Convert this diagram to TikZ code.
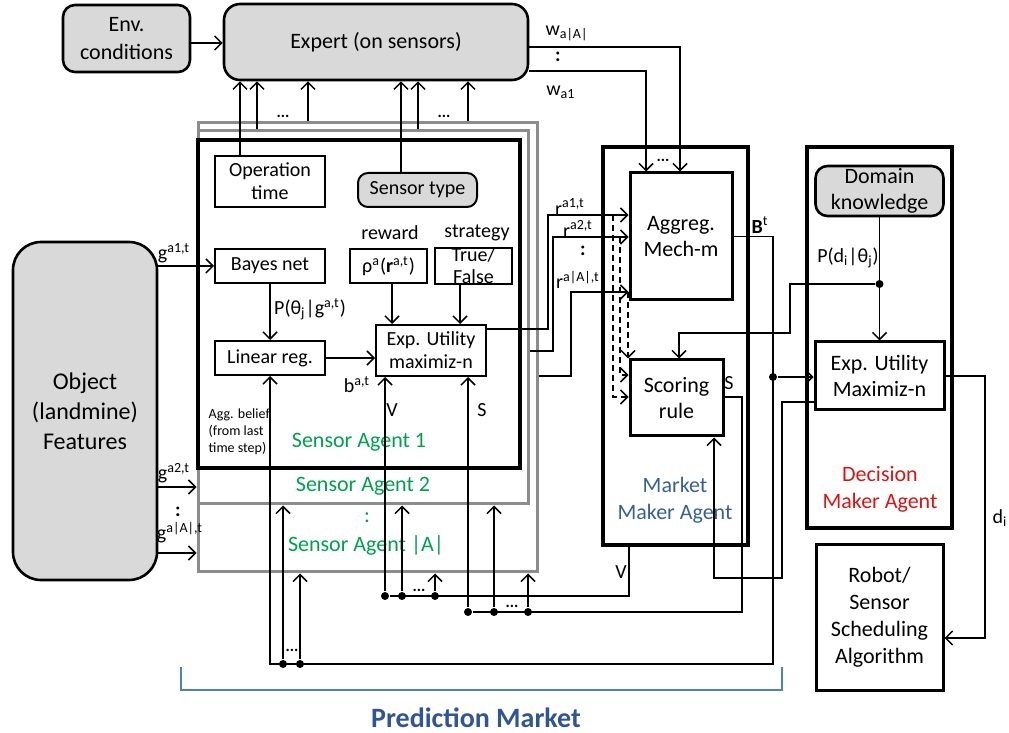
\documentclass[tikz,border=0pt]{standalone}
\usepackage{fontspec}
\setmainfont{Carlito}
\usetikzlibrary{arrows.meta,calc}
\definecolor{boxgray}{RGB}{217,217,217}
\definecolor{framegray}{RGB}{140,140,140}
\definecolor{agentgreen}{RGB}{0,160,80}
\definecolor{mmblue}{RGB}{54,96,146}
\definecolor{dmred}{RGB}{220,20,20}
\definecolor{pmblue}{RGB}{47,85,151}
\definecolor{brblue}{RGB}{79,129,189}
\begin{document}
\begin{tikzpicture}[x=0.5pt,y=-0.5pt,line width=0.75pt,
  arr/.style={-{Straight Barb[length=3.5pt,width=7pt]}},
  dsh/.style={dash pattern=on 3pt off 2pt},
  rbox/.style={draw, rounded corners=6pt, fill=boxgray, line width=1.3pt, align=center, inner sep=0pt},
  sbox/.style={draw, line width=1pt, align=center, inner sep=0pt, font=\fontsize{10}{11.5}\selectfont},
  bbox/.style={draw, line width=1.5pt, align=center, inner sep=0pt, font=\fontsize{11}{13}\selectfont},
  frm/.style={draw, line width=2pt, inner sep=0pt},
  gfrm/.style={draw=framegray, line width=1.5pt, inner sep=0pt},
  lbl/.style={inner sep=0pt, font=\fontsize{10}{12}\selectfont},
  big/.style={inner sep=0pt, align=center, font=\fontsize{11}{13.5}\selectfont},
  dts/.style={inner sep=0pt, font=\bfseries\fontsize{8}{9}\selectfont},
  jdot/.style={circle, fill, inner sep=0pt, minimum size=4pt},
]
\useasboundingbox (0,0) rectangle (1009,733);

% top boxes
\node[rbox, minimum width=63.5pt, minimum height=33.5pt, font=\fontsize{11}{14}\selectfont] (env) at (126.5,38.5) {Env.\\conditions};
\node[rbox, rounded corners=8pt, minimum width=152pt, minimum height=38pt, font=\fontsize{11}{13}\selectfont] (expert) at (376,42) {Expert (on sensors)};
\node[rbox, rounded corners=14pt, minimum width=72pt, minimum height=169pt, font=\fontsize{12}{15}\selectfont] (obj) at (85,411) {Object\\(landmine)\\Features};

% sensor agent frames
\node[gfrm, minimum width=169.5pt, minimum height=224.5pt] (agentA) at (367.5,347.5) {};
\node[gfrm, minimum width=165pt, minimum height=186.5pt] (agent2) at (363,317.5) {};
\node[frm, minimum width=161pt, minimum height=164pt] (agent1) at (359,304) {};

% inner boxes of sensor agent
\node[sbox, minimum width=55pt, minimum height=25.5pt] (optime) at (270,181.5) {Operation\\time};
\node[sbox, rounded corners=5pt, fill=boxgray, minimum width=59.5pt, minimum height=17pt] (stype) at (417.5,190) {Sensor type};
\node[sbox, minimum width=55pt, minimum height=17pt] (bayes) at (270,266) {Bayes net};
\node[sbox, minimum width=38.5pt, minimum height=17pt] (reward) at (388.5,266) {ρ\textsuperscript{a}(\textbf{r}\textsuperscript{a,t})};
\node[sbox, minimum width=38.5pt, minimum height=17pt, font=\fontsize{10}{11}\selectfont] (strat) at (473.5,266) {True/\\False};
\node[sbox, minimum width=55pt, minimum height=17pt] (linreg) at (270,358) {Linear reg.};
\node[sbox, minimum width=55pt, minimum height=25.5pt] (eu1) at (431,350.5) {Exp. Utility\\maximiz-n};

\node[lbl] (rewl) at (390,233) {reward};
\node[lbl] (strl) at (477,233) {strategy};
\node[lbl] (pth) at (310,309) {P(θ\textsubscript{j}|g\textsuperscript{a,t})};
\node[lbl] (bat) at (357,385) {b\textsuperscript{a,t}};
\node[lbl] (vl1) at (392,410) {V};
\node[lbl] (sl1) at (482,410) {S};
\node[anchor=north west, align=left, inner sep=0pt, font=\fontsize{7}{8.5}\selectfont] (aggb) at (208,408) {Agg. belief\\(from last\\time step)};

\node[big, text=agentgreen] (sa1) at (359,442) {Sensor Agent 1};
\node[big, text=agentgreen] (sa2) at (363,486) {Sensor Agent 2};
\node[big, text=agentgreen] (sad) at (367,518) {:};
\node[big, text=agentgreen] (saA) at (366,545) {Sensor Agent |A|};

% market maker
\node[frm, minimum width=72.5pt, minimum height=199pt] (mm) at (675.5,346) {};
\node[bbox, minimum width=51pt, minimum height=63.5pt] (aggreg) at (681,236.5) {Aggreg.\\Mech-m};
\node[bbox, minimum width=46.5pt, minimum height=38pt] (score) at (676.5,398) {Scoring\\rule};
\node[big, text=mmblue] (mml) at (675,500) {Market\\Maker Agent};

% decision maker
\node[frm, minimum width=72.5pt, minimum height=190.5pt] (dm) at (879.5,337.5) {};
\node[rbox, minimum width=64pt, minimum height=25pt, font=\fontsize{11}{13}\selectfont] (domain) at (879.5,191) {Domain\\knowledge};
\node[bbox, minimum width=64.5pt, minimum height=34pt] (eu2) at (879.5,376) {Exp. Utility\\Maximiz-n};
\node[big, text=dmred] (dml) at (880,489) {Decision\\Maker Agent};

\node[bbox, minimum width=63.5pt, minimum height=72.5pt, font=\fontsize{11}{13.5}\selectfont] (robot) at (879.5,617.5) {Robot/\\Sensor\\Scheduling\\Algorithm};

% env -> expert
\draw[arr] (env.east |- 0,43) -- (expert.west |- 0,43);

% agents -> expert
\draw[arr] (240,0 |- optime.north) -- (240,0 |- expert.south);
\draw[arr] (257,0 |- agent2.north) -- (257,0 |- expert.south);
\draw[arr] (308,0 |- agentA.north) -- (308,0 |- expert.south);
\draw[arr] (401,0 |- stype.north) -- (401,0 |- expert.south);
\draw[arr] (418,0 |- agent2.north) -- (418,0 |- expert.south);
\draw[arr] (468,0 |- agentA.north) -- (468,0 |- expert.south);
\node[dts] (dt1) at (283,116) {...};
\node[dts] (dt2) at (444,116) {...};

% expert -> aggreg
\draw[arr] (expert.east |- 0,47) -| (680,0 |- aggreg.north);
\draw[arr] (expert.east |- 0,71) -| (646,0 |- aggreg.north);
\node[lbl] (wA) at (567,33) {w\textsubscript{a|A|}};
\node[lbl, font=\bfseries\fontsize{10}{12}\selectfont] (wd) at (558,57) {:};
\node[lbl] (w1) at (561,92) {w\textsubscript{a1}};
\node[dts] (dt3) at (663,160) {...};

% object -> agents
\draw[arr] (obj.east |- bayes.west) -- (bayes.west);
\draw[arr] (obj.east |- 0,487) -- (agent2.west |- 0,487);
\draw[arr] (obj.east |- 0,553) -- (agentA.west |- 0,553);
\node[lbl] (g1) at (174,253) {g\textsuperscript{a1,t}};
\node[lbl] (g2) at (174,473) {g\textsuperscript{a2,t}};
\node[lbl, font=\bfseries\fontsize{10}{12}\selectfont] (gd) at (178,512) {:};
\node[lbl] (gA) at (180,533) {g\textsuperscript{a|A|,t}};

% inside agent
\draw[arr] (bayes.south) -- (linreg.north);
\draw[arr] (392,0 |- reward.south) -- (392,0 |- eu1.north);
\draw[arr] (460,0 |- strat.south) -- (460,0 |- eu1.north);
\draw[arr] (linreg.east) -- (linreg.east -| eu1.west);

% reports to aggregation
\draw[arr] (eu1.east |- 0,329) -| (548,215) -- (aggreg.west |- 0,215);
\draw[arr] (agent2.east |- 0,351) -| (553,237) -- (aggreg.west |- 0,237);
\draw[arr] (agentA.east |- 0,376) -| (571,292) -- (aggreg.west |- 0,292);
\node[lbl] (r1) at (570,207) {r\textsuperscript{a1,t}};
\node[lbl] (r2) at (578,229) {r\textsuperscript{a2,t}};
\node[lbl, font=\bfseries\fontsize{10}{12}\selectfont] (rd) at (583,251) {:};
\node[lbl] (rA) at (578,280) {r\textsuperscript{a|A|,t}};

% dashed to scoring rule
\draw[arr, dsh] (613,215) |- (score.west |- 0,397);
\draw[arr, dsh] (620,237) |- (score.west |- 0,375);
\draw[arr, dsh] (628,292) -- (628,0 |- score.north);

% B^t
\node[jdot] (bd) at (773,377) {};
\node[jdot] (bd1) at (283,664) {};
\node[jdot] (bd2) at (300,664) {};
\draw[arr] (aggreg.east) -| (773,664) -| (linreg.south);
\draw[arr] (bd) -- (eu2.west |- bd);
\draw[arr] (bd1) -- (bd1 |- agent2.south);
\draw[arr] (bd2) -- (bd2 |- agentA.south);
\node[dts] (dt4) at (292,650) {...};
\node[lbl] (btl) at (760,225) {\textbf{B}\textsuperscript{t}};

% V
\node[jdot] (vd1) at (385,596) {};
\node[jdot] (vd2) at (402,596) {};
\node[jdot] (vd3) at (435,596) {};
\draw (mm.south -| 629,0) |- (vd1);
\draw[arr] (vd1) -- (vd1 |- eu1.south);
\draw[arr] (vd2) -- (vd2 |- agent2.south);
\draw[arr] (vd3) -- (vd3 |- agentA.south);
\node[dts] (dt5) at (419,590) {...};
\node[lbl] (vl) at (621,572) {V};

% S
\node[jdot] (sd1) at (468,612) {};
\node[jdot] (sd2) at (494,612) {};
\node[jdot] (sd3) at (528,612) {};
\draw (score.east |- 0,397) -| (742,612) -- (sd1);
\draw[arr] (sd1) -- (sd1 |- eu1.south);
\draw[arr] (sd2) -- (sd2 |- agent2.south);
\draw[arr] (sd3) -- (sd3 |- agentA.south);
\node[dts] (dt6) at (512,606) {...};
\node[lbl] (sl) at (729,383) {S};

% decision -> scoring rule
\draw[arr] (eu2.west |- 0,402) -| (782,578) -| (score.south -| 714,0);

% domain knowledge
\node[jdot] (pd) at (879.5,284) {};
\draw[arr] (domain.south) -- (eu2.north);
\draw[arr] (pd) -| (790,333) -| (score.north -| 679,0);
\node[lbl] (pdl) at (848,258) {P(d\textsubscript{i}|θ\textsubscript{j})};

% decision -> robot
\draw[arr] (eu2.east) -| (985,638) -- (robot.east |- 0,638);
\node[lbl] (dil) at (1000,518) {d\textsubscript{i}};

% bracket
\draw[draw=brblue, line width=1.3pt] (181,667) -- (181,690) -- (782,690) -- (782,667);
\node[inner sep=0pt, text=pmblue, font=\bfseries\fontsize{14}{16}\selectfont] (pm) at (476,718) {Prediction Market};
\end{tikzpicture}
\end{document}
